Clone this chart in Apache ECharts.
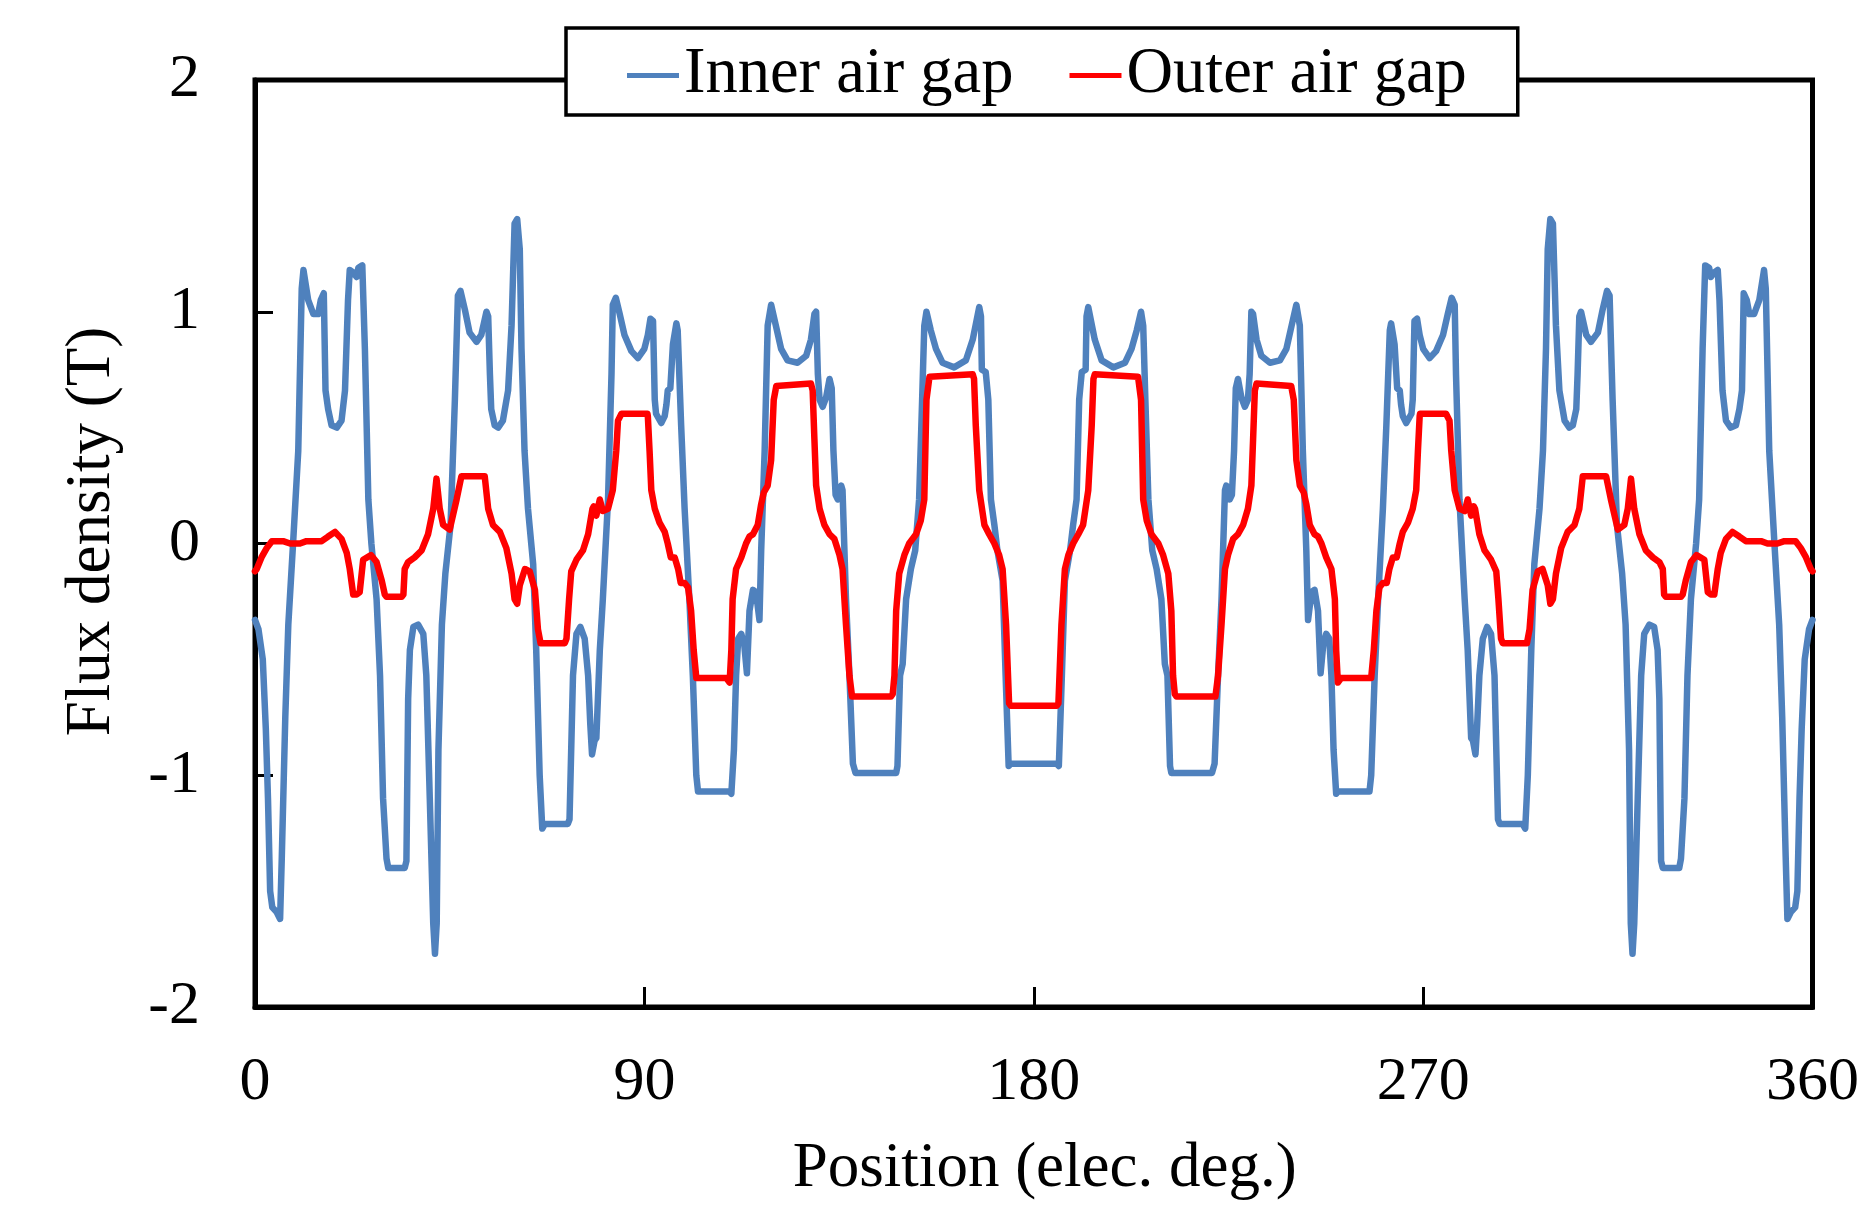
<!DOCTYPE html>
<html>
<head>
<meta charset="utf-8">
<script src="https://cdn.jsdelivr.net/npm/echarts@6/dist/echarts.min.js"></script>
<style>
html,body{margin:0;padding:0;background:#fff;}
#chart{width:1862px;height:1209px;}
</style>
</head>
<body>
<div id="chart"></div>
<script>
var xTicks = [0, 90, 180, 270, 360];
var yTicks = [-2, -1, 0, 1, 2];
var seriesNames = ['Inner air gap', 'Outer air gap'];

var innerPoints = [
[0,-0.33],[0.8,-0.37],[1.8,-0.5],[2.5,-0.8],[3.0,-1.1],[3.5,-1.5],[4.0,-1.57],[5.0,-1.59],[5.8,-1.62],[6.2,-1.35],
[7.0,-0.75],[7.7,-0.35],[8.8,0.0],[10.0,0.4],[10.8,1.1],[11.2,1.18],[12.3,1.05],[13.5,0.99],[14.6,0.99],[15.2,1.05],
[15.9,1.08],[16.3,0.66],[16.9,0.58],[17.7,0.51],[18.9,0.50],[20.0,0.53],[20.8,0.66],[21.5,1.05],[21.9,1.18],[22.7,1.17],
[23.5,1.15],[23.9,1.19],[24.8,1.20],[25.4,0.84],[26.2,0.19],[26.9,0.00],[28.1,-0.24],[28.9,-0.57],[29.6,-1.10],[30.4,-1.36],
[30.8,-1.40],[34.6,-1.40],[35.0,-1.37],[35.4,-0.67],[35.8,-0.46],[36.6,-0.36],[37.7,-0.35],[38.9,-0.39],[39.6,-0.57],[40.4,-1.10],
[41.2,-1.64],[41.6,-1.77],[42.0,-1.64],[42.4,-0.89],[43.2,-0.35],[44.0,-0.13],[45.2,0.08],[46.2,0.62],[46.9,1.07],[47.5,1.09],
[48.5,1.01],[49.6,0.91],[51.2,0.87],[52.3,0.90],[53.5,1.00],[53.9,0.98],[54.3,0.73],[54.6,0.58],[55.4,0.51],[56.2,0.50],
[57.3,0.53],[58.5,0.66],[59.3,0.94],[60.0,1.38],[60.6,1.40],[61.2,1.27],[61.6,0.84],[62.3,0.40],[63.1,0.15],[64.3,-0.09],
[65.0,-0.46],[65.8,-1.00],[66.4,-1.23],[67.0,-1.21],[72.3,-1.21],[72.7,-1.19],[73.5,-0.57],[74.3,-0.39],[75.2,-0.36],[76.2,-0.41],
[77.0,-0.57],[77.5,-0.78],[77.9,-0.91],[78.5,-0.85],[78.9,-0.84],[79.7,-0.46],[80.4,-0.24],[81.6,0.19],[82.4,0.73],[82.7,1.03],
[83.4,1.06],[84.3,0.99],[85.4,0.90],[87.0,0.83],[88.5,0.80],[90.0,0.84],[90.8,0.90],[91.4,0.97],[92.0,0.96],[92.4,0.62],
[92.7,0.56],[93.9,0.52],[94.7,0.55],[95.1,0.60],[95.4,0.66],[96.0,0.67],[96.6,0.86],[97.4,0.95],[97.7,0.92],[98.5,0.51],
[99.3,0.15],[100.4,-0.24],[101.2,-0.57],[102.0,-1.00],[102.4,-1.07],[109.7,-1.07],[110.1,-1.08],[110.7,-0.89],[111.2,-0.57],[111.7,-0.41],
[112.4,-0.39],[113.1,-0.44],[113.7,-0.56],[114.3,-0.29],[115.1,-0.20],[115.8,-0.21],[116.6,-0.33],[117.0,-0.03],[117.8,0.40],[118.5,0.94],
[119.3,1.03],[120.4,0.94],[121.6,0.84],[123.1,0.79],[125.4,0.78],[127.4,0.81],[128.5,0.88],[129.3,0.99],[129.7,1.00],[130.1,0.73],
[130.5,0.62],[131.2,0.59],[132.0,0.63],[132.8,0.71],[133.3,0.67],[133.7,0.40],[134.2,0.21],[134.7,0.19],[135.5,0.25],[135.8,0.23],
[136.6,-0.24],[137.4,-0.57],[138.2,-0.95],[138.8,-0.99],[148.2,-0.99],[148.5,-0.96],[149.1,-0.57],[149.7,-0.52],[150.5,-0.24],[151.6,-0.11],
[152.6,-0.03],[153.5,0.19],[154.2,0.62],[154.7,0.94],[155.2,1.00],[156.2,0.92],[157.4,0.84],[158.9,0.78],[161.6,0.76],[164.3,0.79],
[165.9,0.88],[167.4,1.02],[167.8,0.98],[168.0,0.75],[168.9,0.74],[169.5,0.62],[170.1,0.19],[170.9,0.08],[171.6,-0.03],[172.8,-0.16],
[173.5,-0.57],[174.2,-0.96],[174.7,-0.95],[180,-0.95],
[185.3,-0.95],[185.8,-0.96],[186.5,-0.57],[187.2,-0.16],[188.4,-0.03],[189.1,0.08],[189.9,0.19],[190.5,0.62],[191.1,0.74],[192.0,0.75],
[192.2,0.98],[192.6,1.02],[194.1,0.88],[195.7,0.79],[198.4,0.76],[201.1,0.78],[202.6,0.84],[203.8,0.92],[204.8,1.00],[205.3,0.94],
[205.8,0.62],[206.5,0.19],[207.4,-0.03],[208.4,-0.11],[209.5,-0.24],[210.3,-0.52],[210.9,-0.57],[211.5,-0.96],[211.8,-0.99],[221.2,-0.99],
[221.8,-0.95],[222.6,-0.57],[223.4,-0.24],[224.2,0.23],[224.5,0.25],[225.3,0.19],[225.8,0.21],[226.3,0.40],[226.7,0.67],[227.2,0.71],
[228.0,0.63],[228.8,0.59],[229.5,0.62],[229.9,0.73],[230.3,1.00],[230.7,0.99],[231.5,0.88],[232.6,0.81],[234.6,0.78],[236.9,0.79],
[238.4,0.84],[239.6,0.94],[240.7,1.03],[241.5,0.94],[242.2,0.40],[243.0,-0.03],[243.4,-0.33],[244.2,-0.21],[244.9,-0.20],[245.7,-0.29],
[246.3,-0.56],[246.9,-0.44],[247.6,-0.39],[248.3,-0.41],[248.8,-0.57],[249.3,-0.89],[249.9,-1.08],[250.3,-1.07],[257.6,-1.07],[258.0,-1.00],
[258.8,-0.57],[259.6,-0.24],[260.7,0.15],[261.5,0.51],[262.3,0.92],[262.6,0.95],[263.4,0.86],[264.0,0.67],[264.6,0.66],[264.9,0.60],
[265.3,0.55],[266.1,0.52],[267.3,0.56],[267.6,0.62],[268.0,0.96],[268.6,0.97],[269.2,0.90],[270.0,0.84],[271.5,0.80],[273.0,0.83],
[274.6,0.90],[275.7,0.99],[276.6,1.06],[277.3,1.03],[277.6,0.73],[278.4,0.19],[279.6,-0.24],[280.3,-0.46],[281.1,-0.84],[281.5,-0.85],
[282.1,-0.91],[282.5,-0.78],[283.0,-0.57],[283.8,-0.41],[284.8,-0.36],[285.7,-0.39],[286.5,-0.57],[287.3,-1.19],[287.7,-1.21],[293.0,-1.21],
[293.6,-1.23],[294.2,-1.00],[295.0,-0.46],[295.7,-0.09],[296.9,0.15],[297.7,0.40],[298.4,0.84],[298.8,1.27],[299.4,1.40],[300.0,1.38],
[300.7,0.94],[301.5,0.66],[302.7,0.53],[303.8,0.50],[304.6,0.51],[305.4,0.58],[305.7,0.73],[306.1,0.98],[306.5,1.00],[307.7,0.90],
[308.8,0.87],[310.4,0.91],[311.5,1.01],[312.5,1.09],[313.1,1.07],[313.8,0.62],[314.8,0.08],[316.0,-0.13],[316.8,-0.35],[317.6,-0.89],
[318.0,-1.64],[318.4,-1.77],[318.8,-1.64],[319.6,-1.10],[320.4,-0.57],[321.1,-0.39],[322.3,-0.35],[323.4,-0.36],[324.2,-0.46],[324.6,-0.67],
[325.0,-1.37],[325.4,-1.40],[329.2,-1.40],[329.6,-1.36],[330.4,-1.10],[331.1,-0.57],[331.9,-0.24],[333.1,0.00],[333.8,0.19],[334.6,0.84],
[335.2,1.20],[336.1,1.19],[336.5,1.15],[337.3,1.17],[338.1,1.18],[338.5,1.05],[339.2,0.66],[340.0,0.53],[341.1,0.50],[342.3,0.51],
[343.1,0.58],[343.7,0.66],[344.1,1.08],[344.8,1.05],[345.4,0.99],[346.5,0.99],[347.7,1.05],[348.8,1.18],[349.2,1.10],[350.0,0.40],
[351.2,0.00],[352.3,-0.35],[353.0,-0.75],[353.8,-1.35],[354.2,-1.62],[355.0,-1.59],[356.0,-1.57],[356.5,-1.50],[357.0,-1.10],[357.5,-0.80],
[358.2,-0.50],[359.2,-0.37],[360,-0.33]
];

var outerPoints = [
[0,-0.12],[0.4,-0.11],[1.5,-0.06],[2.7,-0.02],[3.9,0.01],[6.5,0.01],[8.1,0.00],[10.4,0.00],[11.9,0.01],[15.4,0.01],
[16.9,0.03],[18.5,0.05],[20.0,0.02],[21.2,-0.04],[21.9,-0.11],[22.7,-0.22],[23.5,-0.22],[24.2,-0.21],[25.0,-0.07],[26.8,-0.05],
[28.1,-0.08],[29.3,-0.16],[30.0,-0.22],[30.4,-0.23],[33.9,-0.23],[34.3,-0.22],[34.6,-0.11],[35.4,-0.08],[36.9,-0.06],[38.5,-0.03],
[40.0,0.04],[41.2,0.15],[41.95,0.28],[42.7,0.15],[43.5,0.08],[45.0,0.06],[46.6,0.19],[47.7,0.29],[53.1,0.29],[53.9,0.15],
[55.0,0.08],[56.6,0.05],[58.1,-0.02],[59.3,-0.13],[60.0,-0.24],[60.6,-0.26],[61.2,-0.18],[62.4,-0.11],[63.5,-0.12],[64.7,-0.20],
[65.4,-0.37],[66.0,-0.43],[71.6,-0.43],[72.0,-0.41],[72.6,-0.24],[73.1,-0.12],[74.3,-0.07],[75.8,-0.03],[77.0,0.04],[78.0,0.15],
[78.3,0.16],[78.9,0.12],[79.7,0.19],[80.4,0.14],[81.6,0.15],[82.7,0.23],[83.5,0.40],[83.9,0.53],[84.7,0.56],[90.7,0.56],
[90.8,0.55],[91.2,0.40],[91.6,0.23],[92.4,0.15],[93.5,0.09],[94.7,0.05],[95.4,0.00],[96.1,-0.06],[97.0,-0.06],[97.8,-0.11],
[98.4,-0.17],[99.3,-0.17],[100.1,-0.19],[100.8,-0.29],[101.4,-0.46],[102.0,-0.58],[108.9,-0.58],[109.7,-0.60],[110.1,-0.46],[110.4,-0.24],
[111.2,-0.11],[112.4,-0.06],[113.5,0.00],[114.3,0.03],[115.1,0.04],[116.2,0.08],[117.0,0.17],[117.6,0.22],[118.5,0.25],[119.3,0.36],
[119.9,0.62],[120.5,0.68],[128.5,0.69],[128.9,0.66],[129.3,0.45],[129.7,0.25],[130.5,0.15],[131.6,0.08],[132.8,0.04],[133.9,0.02],
[135.1,-0.05],[135.8,-0.11],[136.6,-0.35],[137.4,-0.57],[138.0,-0.66],[147.0,-0.66],[147.4,-0.65],[147.8,-0.57],[148.2,-0.29],[148.9,-0.13],
[150.1,-0.05],[151.2,0.00],[152.8,0.04],[153.9,0.10],[154.7,0.19],[155.2,0.62],[155.9,0.72],[165.9,0.73],[166.2,0.71],[166.6,0.51],
[167.4,0.23],[168.6,0.08],[169.7,0.04],[170.9,0.00],[172.0,-0.05],[172.8,-0.11],[173.6,-0.35],[174.3,-0.69],[174.7,-0.70],[180,-0.70],
[185.3,-0.70],[185.7,-0.69],[186.4,-0.35],[187.2,-0.11],[188.0,-0.05],[189.1,0.00],[190.3,0.04],[191.4,0.08],[192.6,0.23],[193.4,0.51],
[193.8,0.71],[194.1,0.73],[204.1,0.72],[204.8,0.62],[205.3,0.19],[206.1,0.10],[207.2,0.04],[208.8,0.00],[209.9,-0.05],[211.1,-0.13],
[211.8,-0.29],[212.2,-0.57],[212.6,-0.65],[213.0,-0.66],[222.0,-0.66],[222.6,-0.57],[223.4,-0.35],[224.2,-0.11],[224.9,-0.05],[226.1,0.02],
[227.2,0.04],[228.4,0.08],[229.5,0.15],[230.3,0.25],[230.7,0.45],[231.1,0.66],[231.5,0.69],[239.5,0.68],[240.1,0.62],[240.7,0.36],
[241.5,0.25],[242.4,0.22],[243.0,0.17],[243.8,0.08],[244.9,0.04],[245.7,0.03],[246.5,0.00],[247.6,-0.06],[248.8,-0.11],[249.6,-0.24],
[249.9,-0.46],[250.3,-0.60],[251.1,-0.58],[258.0,-0.58],[258.6,-0.46],[259.2,-0.29],[259.9,-0.19],[260.7,-0.17],[261.6,-0.17],[262.2,-0.11],
[263.0,-0.06],[263.9,-0.06],[264.6,0.00],[265.3,0.05],[266.5,0.09],[267.6,0.15],[268.4,0.23],[268.8,0.40],[269.2,0.55],[269.3,0.56],
[275.3,0.56],[276.1,0.53],[276.5,0.40],[277.3,0.23],[278.4,0.15],[279.6,0.14],[280.3,0.19],[281.1,0.12],[281.7,0.16],[282.0,0.15],
[283.0,0.04],[284.2,-0.03],[285.7,-0.07],[286.9,-0.12],[287.4,-0.24],[288.0,-0.41],[288.4,-0.43],[294.0,-0.43],[294.6,-0.37],[295.3,-0.20],
[296.5,-0.12],[297.6,-0.11],[298.8,-0.18],[299.4,-0.26],[300.0,-0.24],[300.7,-0.13],[301.9,-0.02],[303.4,0.05],[305.0,0.08],[306.1,0.15],
[306.9,0.29],[312.3,0.29],[313.4,0.19],[315.0,0.06],[316.5,0.08],[317.3,0.15],[318.05,0.28],[318.8,0.15],[320.0,0.04],[321.5,-0.03],
[323.1,-0.06],[324.6,-0.08],[325.4,-0.11],[325.7,-0.22],[326.1,-0.23],[329.6,-0.23],[330.0,-0.22],[330.7,-0.16],[331.9,-0.08],[333.2,-0.05],
[335.0,-0.07],[335.8,-0.21],[336.5,-0.22],[337.3,-0.22],[338.1,-0.11],[338.8,-0.04],[340.0,0.02],[341.5,0.05],[343.1,0.03],[344.6,0.01],
[348.1,0.01],[349.6,0.00],[351.9,0.00],[353.5,0.01],[356.1,0.01],[357.3,-0.02],[358.5,-0.06],[359.6,-0.11],[360,-0.12]
];

var FONT = '"Liberation Serif", "Times New Roman", serif';
var chart = echarts.init(document.getElementById('chart'), null, {renderer: 'canvas'});
chart.setOption({
  animation: false,
  backgroundColor: '#fff',
  grid: {left: 255, right: 48, top: 80, bottom: 202, show: true, borderColor: '#000', borderWidth: 5, backgroundColor: 'transparent'},
  legend: {
    data: seriesNames,
    left: 566, top: 28,
    padding: [15, 51, 7, 61],
    itemGap: 56,
    itemWidth: 52, itemHeight: 5,
    icon: 'rect',
    backgroundColor: '#fff',
    borderColor: '#000', borderWidth: 3.5,
    textStyle: {fontFamily: FONT, fontSize: 64.5, color: '#000'}
  },
  xAxis: {
    type: 'value', min: xTicks[0], max: xTicks[xTicks.length - 1], interval: 90,
    name: 'Position (elec. deg.)', nameLocation: 'middle', nameGap: 131,
    nameTextStyle: {fontFamily: FONT, fontSize: 63, color: '#000', padding: [0, 0, 0, 22]},
    axisLine: {show: true, onZero: false, lineStyle: {color: '#000', width: 5}},
    axisTick: {show: true, inside: true, length: 20, lineStyle: {color: '#000', width: 3}},
    axisLabel: {fontFamily: FONT, fontSize: 62, color: '#000', margin: 45},
    splitLine: {show: false}
  },
  yAxis: {
    type: 'value', min: yTicks[0], max: yTicks[yTicks.length - 1], interval: 1,
    name: 'Flux density (T)', nameLocation: 'middle', nameGap: 131, nameRotate: 90,
    nameTextStyle: {fontFamily: FONT, fontSize: 63, color: '#000', padding: [0, 0, 0, 24]},
    axisLine: {show: true, onZero: false, lineStyle: {color: '#000', width: 5}},
    axisTick: {show: true, inside: true, length: 18, lineStyle: {color: '#000', width: 3}},
    axisLabel: {fontFamily: FONT, fontSize: 62, color: '#000', margin: 55},
    splitLine: {show: false}
  },
  series: [
    {name: seriesNames[0], type: 'line', data: innerPoints, showSymbol: false, symbol: 'none',
     itemStyle: {color: '#4F81BD'}, lineStyle: {color: '#4F81BD', width: 6.5, join: 'round', cap: 'round'}, z: 2},
    {name: seriesNames[1], type: 'line', data: outerPoints, showSymbol: false, symbol: 'none',
     itemStyle: {color: '#FF0000'}, lineStyle: {color: '#FF0000', width: 6.5, join: 'round', cap: 'round'}, z: 3}
  ]
});
</script>
</body>
</html>
